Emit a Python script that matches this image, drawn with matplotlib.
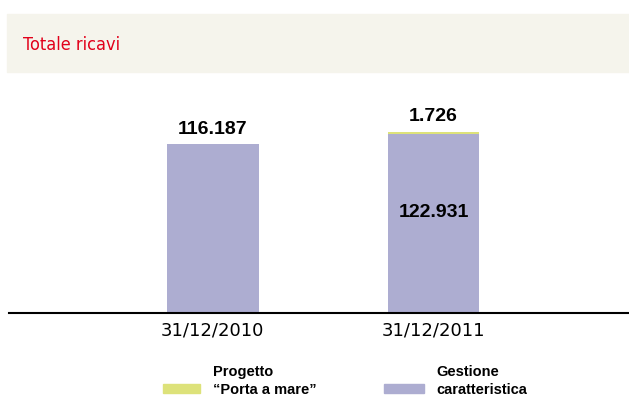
import matplotlib.pyplot as plt
from matplotlib.patches import Rectangle

# ricavi in migliaia di euro
periodi = ["31/12/2010", "31/12/2011"]
gestione = [116187, 122931]
porta_a_mare = [0, 1726]
etichette_gestione = ["116.187", "122.931"]
etichette_porta = ["", "1.726"]

viola = "#adadd1"
giallo = "#dde27a"
rosso = "#e2001a"

W, H = 629, 398
fig = plt.figure(figsize=(W / 100, H / 100), dpi=100)


def fx(px):
    return px / W


def fy(py):
    return 1 - py / H


# fascia del titolo
fig.add_artist(Rectangle((fx(7), fy(72)), 1 - fx(7), (72 - 14) / H,
                         transform=fig.transFigure, color="#f5f4ec", zorder=0))
fig.text(fx(23), fy(45), "Totale ricavi", color=rosso, fontsize=13,
         family="DejaVu Sans", fontstretch="condensed", va="center", ha="left")

ax = fig.add_axes([fx(9), fy(313), fx(628) - fx(9), (313 - 80) / H])
x = [0, 1]
w = 0.416
ax.bar(x, gestione, width=w, color=viola, zorder=2)
ax.bar(x, porta_a_mare, width=w, bottom=gestione, color=giallo, zorder=2)

ax.set_xlim(-0.921, 1.880)
ax.set_ylim(0, 160187)

lab_font = dict(family="Liberation Sans", fontweight="bold", fontsize=14)
# 2010: etichetta sopra la barra
ax.annotate(etichette_gestione[0], (x[0], gestione[0]), xytext=(0, 4),
            textcoords="offset points", ha="center", va="bottom", **lab_font)
# 2011: gestione dentro la barra, progetto sopra
ax.text(x[1], gestione[1] * 0.56, etichette_gestione[1], ha="center", va="center", **lab_font)
ax.annotate(etichette_porta[1], (x[1], gestione[1] + porta_a_mare[1]), xytext=(0, 5),
            textcoords="offset points", ha="center", va="bottom", **lab_font)

for s in ["top", "right", "left"]:
    ax.spines[s].set_visible(False)
ax.spines["bottom"].set_linewidth(1.5)
ax.set_yticks([])
ax.set_xticks(x)
ax.set_xticklabels(periodi, fontsize=13, family="DejaVu Sans")
ax.tick_params(axis="x", length=0, pad=6)
ax.patch.set_alpha(0)

# legenda
leg_font = dict(family="Liberation Sans", fontweight="bold", fontsize=10.5, va="baseline", ha="left")
fig.add_artist(Rectangle((fx(163), fy(393)), (200 - 163) / W, 9 / H,
                         transform=fig.transFigure, color=giallo))
fig.text(fx(213), fy(376), "Progetto", **leg_font)
fig.text(fx(213), fy(394), "\u201cPorta a mare\u201d", **leg_font)
fig.add_artist(Rectangle((fx(384), fy(393)), (424 - 384) / W, 9 / H,
                         transform=fig.transFigure, color=viola))
fig.text(fx(436), fy(376), "Gestione", **leg_font)
fig.text(fx(436), fy(394), "caratteristica", **leg_font)

fig.savefig("out.png", dpi=100)
